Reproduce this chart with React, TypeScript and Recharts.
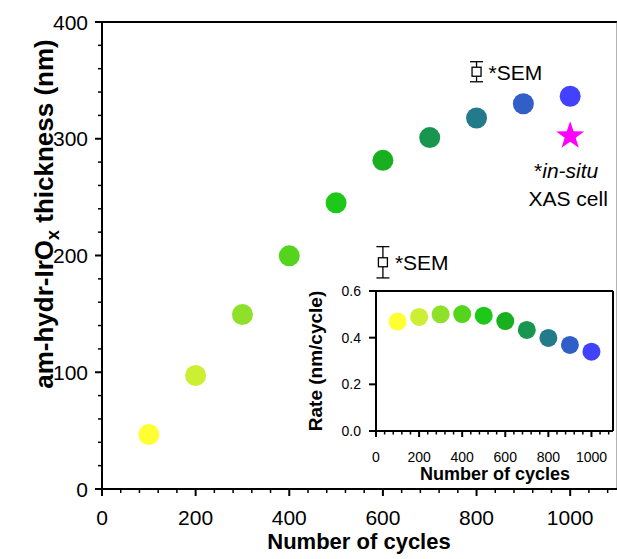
import { ErrorBar, ReferenceLine, Scatter, ScatterChart, XAxis, YAxis } from "recharts";

const cycles = [100, 200, 300, 400, 500, 600, 700, 800, 900, 1000];
const thickness = [46.7, 97.2, 149.5, 199.7, 245.1, 281.5, 301, 317.8, 330, 336.4];
const rate = [0.469, 0.489, 0.5, 0.501, 0.494, 0.471, 0.433, 0.399, 0.369, 0.34];
const pointColors = ["#ffff33", "#ccee33", "#8fe02a", "#55d41e", "#1ec81a", "#19b020", "#18964f", "#227a8a", "#325ec8", "#4141ff"];

const semCycles = [600, 800];
const semThickness = [194.2, 357.4];
const semError = [13.4, 8.6];

const xasCycles = [1000];
const xasThickness = [302.4];

const xMajor = [0, 200, 400, 600, 800, 1000];
const xMinor = [40, 80, 120, 160, 240, 280, 320, 360, 440, 480, 520, 560, 640, 680, 720, 760, 840, 880, 920, 960, 1040, 1080];
const yMajor = [0, 100, 200, 300, 400];
const yMinor = [20, 40, 60, 80, 120, 140, 160, 180, 220, 240, 260, 280, 320, 340, 360, 380];
const rateMajor = [0, 0.2, 0.4, 0.6];

const FONT = "'Liberation Sans', Arial, Helvetica, sans-serif";

const mainData = cycles.map((c, i) => ({ x: c, y: thickness[i] }));
const rateData = cycles.map((c, i) => ({ x: c, y: rate[i] }));
const semData = semCycles.map((c, i) => ({ x: c, y: semThickness[i], err: semError[i] }));
const xasData = xasCycles.map((c, i) => ({ x: c, y: xasThickness[i] }));

const colorFor = (c: number) => pointColors[cycles.indexOf(c)] ?? "#000";

function xTick(major: number[], len: number, minorLen: number, fontSize: number, dy: number) {
  return (props: any) => {
    const { x, y, payload } = props;
    const isMajor = major.includes(payload.value);
    return (
      <g>
        <line x1={x} x2={x} y1={y} y2={y + (isMajor ? len : minorLen)} stroke="#000" strokeWidth={isMajor ? 2 : 1.5} />
        {isMajor && (
          <text x={x} y={y + dy} textAnchor="middle" fontSize={fontSize} fontFamily={FONT} fill="#000">
            {payload.value}
          </text>
        )}
      </g>
    );
  };
}

function yTick(major: number[], len: number, minorLen: number, fontSize: number, dx: number, fmt: (v: number) => string) {
  return (props: any) => {
    const { x, y, payload } = props;
    const isMajor = major.includes(payload.value);
    return (
      <g>
        <line x1={x} x2={x - (isMajor ? len : minorLen)} y1={y} y2={y} stroke="#000" strokeWidth={isMajor ? 2 : 1.5} />
        {isMajor && (
          <text x={x - dx} y={y + fontSize * 0.36} textAnchor="end" fontSize={fontSize} fontFamily={FONT} fill="#000">
            {fmt(payload.value)}
          </text>
        )}
      </g>
    );
  };
}

function MainYLabel() {
  return (
    <text x={53} y={214} transform="rotate(-90, 53, 214)" textAnchor="middle" fontSize={26} fontWeight="bold" fontFamily={FONT} fill="#000">
      am-hydr-IrO<tspan dy={6} fontSize={18}>x</tspan>
      <tspan dy={-6}> thickness (nm)</tspan>
    </text>
  );
}

function MainXLabel() {
  return (
    <text x={359} y={549} textAnchor="middle" fontSize={22} fontWeight="bold" fontFamily={FONT} fill="#000">
      Number of cycles
    </text>
  );
}

function InsetYLabel() {
  return (
    <text x={32} y={81} transform="rotate(-90, 32, 81)" textAnchor="middle" fontSize={19} fontWeight="bold" fontFamily={FONT} fill="#000">
      Rate (nm/cycle)
    </text>
  );
}

function InsetXLabel() {
  return (
    <text x={205} y={200} textAnchor="middle" fontSize={18} fontWeight="bold" fontFamily={FONT} fill="#000">
      Number of cycles
    </text>
  );
}

function starPoints(cx: number, cy: number, R: number, r: number) {
  const pts: string[] = [];
  for (let k = 0; k < 10; k++) {
    const a = -Math.PI / 2 + (k * Math.PI) / 5;
    const rad = k % 2 === 0 ? R : r;
    pts.push(`${cx + rad * Math.cos(a)},${cy + rad * Math.sin(a)}`);
  }
  return pts.join(" ");
}

export default function App() {
  return (
    <div style={{ position: "absolute", left: 0, top: 0, width: 617, height: 559, background: "#fff" }}>
      <ScatterChart width={617} height={559} margin={{ top: 22, right: 0, bottom: 0, left: 0 }}>
        <XAxis
          type="number"
          dataKey="x"
          domain={[0, 1100]}
          ticks={[...xMajor, ...xMinor].sort((a, b) => a - b)}
          interval={0}
          height={70}
          tickSize={0}
          tickMargin={0}
          axisLine={{ stroke: "#000", strokeWidth: 2 }}
          tick={xTick(xMajor, 7, 4, 21, 36)}
          label={<MainXLabel />}
        />
        <YAxis
          type="number"
          dataKey="y"
          domain={[0, 400]}
          ticks={[...yMajor, ...yMinor].sort((a, b) => a - b)}
          interval={0}
          width={102}
          tickSize={0}
          tickMargin={0}
          axisLine={{ stroke: "#000", strokeWidth: 2 }}
          tick={yTick(yMajor, 7, 4, 21, 14, (v) => String(v))}
          label={<MainYLabel />}
        />
        <ReferenceLine y={400} stroke="#000" strokeWidth={2} />
        <ReferenceLine x={1100} stroke="#666" strokeWidth={1} />
        <Scatter
          data={mainData}
          isAnimationActive={false}
          shape={(p: any) => <circle cx={p.cx} cy={p.cy} r={10.5} fill={colorFor(p.payload.x)} />}
        />
        <Scatter
          data={semData}
          isAnimationActive={false}
          shape={(p: any) => (
            <g>
              <rect x={p.cx - 4.5} y={p.cy - 4.5} width={9} height={9} fill="#fff" stroke="#000" strokeWidth={1.3} />
              <text x={p.cx + 12} y={p.cy + 8} fontSize={21} fontFamily={FONT} fill="#000">
                *SEM
              </text>
            </g>
          )}
        >
          <ErrorBar dataKey="err" direction="y" width={6.5} stroke="#000" strokeWidth={1.3} />
        </Scatter>
        <Scatter
          data={xasData}
          isAnimationActive={false}
          shape={(p: any) => (
            <g>
              <polygon points={starPoints(p.cx, p.cy, 14.7, 5.8)} fill="#ff00ff" />
              <text x={p.cx - 4} y={p.cy + 42} textAnchor="middle" fontSize={21} fontFamily={FONT} fill="#000">
                *<tspan fontStyle="italic">in-situ</tspan>
              </text>
              <text x={p.cx - 2} y={p.cy + 70} textAnchor="middle" fontSize={21} fontFamily={FONT} fill="#000">
                XAS cell
              </text>
            </g>
          )}
        />
      </ScatterChart>

      <div style={{ position: "absolute", left: 290, top: 280, width: 327, height: 210 }}>
        <ScatterChart width={327} height={210} margin={{ top: 11, right: 4, bottom: 10, left: 0 }}>
          <XAxis
            type="number"
            dataKey="x"
            domain={[0, 1100]}
            ticks={[...xMajor, ...xMinor].sort((a, b) => a - b)}
            interval={0}
            height={49}
            tickSize={0}
            tickMargin={0}
            axisLine={{ stroke: "#000", strokeWidth: 2 }}
            tick={xTick(xMajor, 6, 3.5, 14, 31)}
            label={<InsetXLabel />}
          />
          <YAxis
            type="number"
            dataKey="y"
            domain={[0, 0.6]}
            ticks={rateMajor}
            interval={0}
            width={86}
            tickSize={0}
            tickMargin={0}
            axisLine={{ stroke: "#000", strokeWidth: 2 }}
            tick={yTick(rateMajor, 7, 4, 14, 15, (v) => v.toFixed(1))}
            label={<InsetYLabel />}
          />
          <ReferenceLine y={0.6} stroke="#000" strokeWidth={2} />
          <ReferenceLine x={1100} stroke="#000" strokeWidth={2} />
          <Scatter
            data={rateData}
            isAnimationActive={false}
            shape={(p: any) => <circle cx={p.cx} cy={p.cy} r={9} fill={colorFor(p.payload.x)} />}
          />
        </ScatterChart>
      </div>
    </div>
  );
}
